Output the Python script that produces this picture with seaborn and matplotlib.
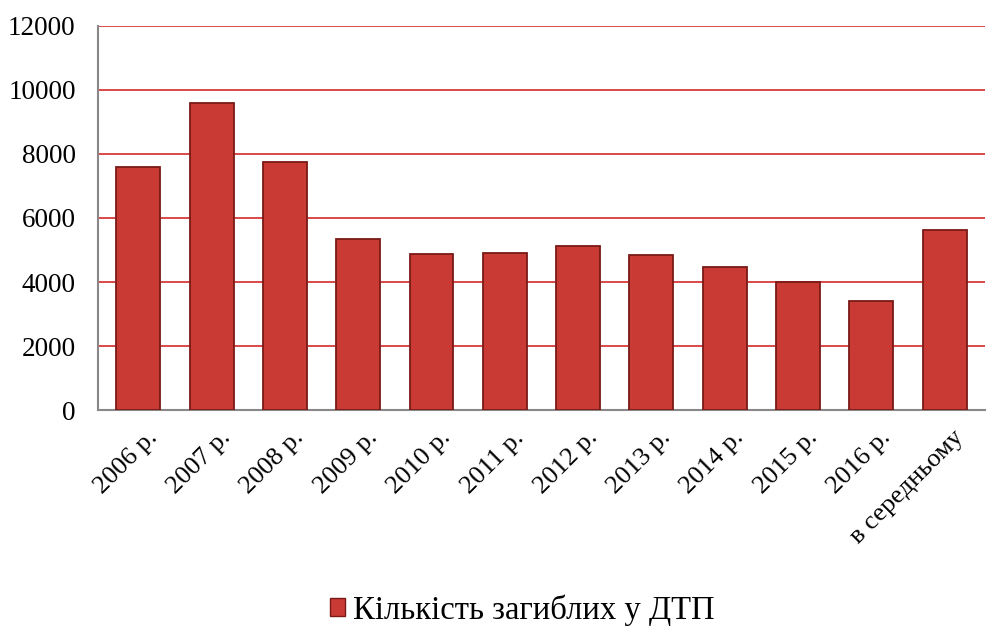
import matplotlib
matplotlib.use("Agg")
import matplotlib.pyplot as plt
import matplotlib.transforms as mtransforms
import seaborn as sns
import pandas as pd
from matplotlib.patches import Patch

categories = ["2006 р.", "2007 р.", "2008 р.", "2009 р.", "2010 р.", "2011 р.",
              "2012 р.", "2013 р.", "2014 р.", "2015 р.", "2016 р.", "в середньому"]
values = [7600, 9600, 7760, 5350, 4880, 4910, 5130, 4850, 4480, 4000, 3400, 5620]
series_name = "Кількість загиблих у ДТП"
yticks = [0, 2000, 4000, 6000, 8000, 10000, 12000]

df = pd.DataFrame({"cat": categories, "val": values})

sns.set_style("white")
plt.rcParams["font.family"] = ["Liberation Serif", "DejaVu Serif"]
plt.rcParams["text.color"] = "black"
plt.rcParams["xtick.color"] = "black"
plt.rcParams["ytick.color"] = "black"

fig = plt.figure(figsize=(9.89, 6.3), dpi=100)
ax = fig.add_axes([0.099, 0.349, 0.897, 0.61])

bar_color = "#C93A35"
sns.barplot(data=df, x="cat", y="val", ax=ax, color=bar_color, width=0.6,
            edgecolor="#7A1A17", linewidth=1.3, saturation=1, zorder=3)

ax.set_ylim(0, 12000)
ax.set_yticks(yticks)
ax.set_yticklabels([str(t) for t in yticks], fontsize=19.5)
ax.set_xlim(-0.55, len(categories) - 0.45)
ax.set_xlabel("")
ax.set_ylabel("")
ax.tick_params(axis="y", length=0, pad=16)
ax.tick_params(axis="x", length=0, pad=12)
ax.set_xticks(range(len(categories)))
ax.set_xticklabels(categories, rotation=45, ha="right", rotation_mode="anchor",
                   fontsize=19)
offset = mtransforms.ScaledTranslation(8 / 100, 0, fig.dpi_scale_trans)
for lbl in ax.get_xticklabels():
    lbl.set_transform(lbl.get_transform() + offset)

for t in yticks[1:]:
    ax.axhline(t, color="#D42A2A", linewidth=1.2, zorder=1)

for s in ["top", "right"]:
    ax.spines[s].set_visible(False)
ax.spines["left"].set_color("#888888")
ax.spines["left"].set_linewidth(1.5)
ax.spines["bottom"].set_color("#888888")
ax.spines["bottom"].set_linewidth(1.5)

handle = Patch(facecolor=bar_color, edgecolor="#7A1A17", label=series_name)
fig.legend(handles=[handle], loc="center", bbox_to_anchor=(0.528, 0.032),
           frameon=False, fontsize=23.5, handlelength=0.45, handleheight=0.45,
           handletextpad=0.25)

fig.savefig("out.png", dpi=100)
